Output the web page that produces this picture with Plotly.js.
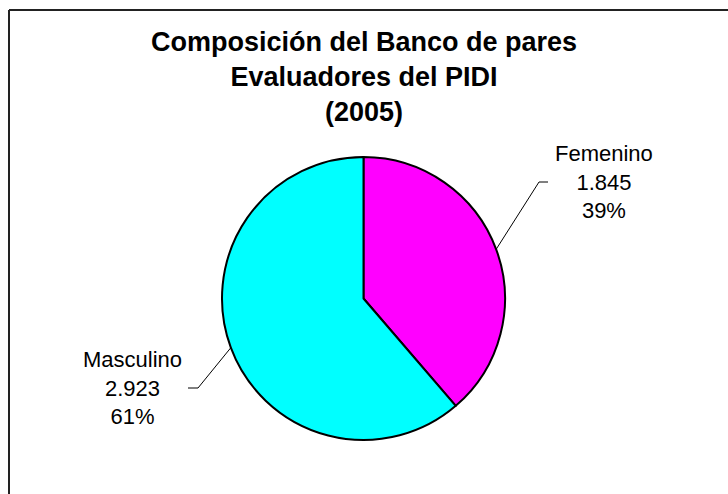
<!DOCTYPE html>
<html>
<head>
<meta charset="utf-8">
<script src="https://cdn.plot.ly/plotly-3.0.1.min.js"></script>
<style>html,body{margin:0;padding:0;background:#fff;}#chart{width:728px;height:494px;}</style>
</head>
<body>
<div id="chart"></div>
<script>
// Data
var categories = ["Femenino", "Masculino"];
var values = [1845, 2923];
var colors = ["#FF00FF", "#00FFFF"];
var titleLines = ["Composición del Banco de pares", "Evaluadores del PIDI", "(2005)"];

// Layout constants (pixels)
var W = 728, H = 494;
var cx = 363.5, cy = 298.5, R = 141.5;
var labelPos = [
  {tx: 604, ty: 182, ex: 539, ey: 182, hx: 548},  // Femenino
  {tx: 132, ty: 388, ex: 198, ey: 388, hx: 188}   // Masculino
];
var FONT = "Liberation Sans, Arial, sans-serif";

function px(x) { return x / W; }
function py(y) { return 1 - y / H; }
function fmt(v) { return String(v).replace(/\B(?=(\d{3})+(?!\d))/g, "."); }

var total = values.reduce(function (a, b) { return a + b; }, 0);

var trace = {
  type: "pie",
  labels: categories,
  values: values,
  sort: false,
  direction: "clockwise",
  rotation: 0,
  textinfo: "none",
  hoverinfo: "label+value+percent",
  marker: {colors: colors, line: {color: "#000000", width: 2}},
  domain: {x: [px(cx - R), px(cx + R)], y: [py(cy + R), py(cy - R)]},
  showlegend: false
};

var annotations = [];
var shapes = [];
var cum = 0;
for (var i = 0; i < values.length; i++) {
  var frac = values[i] / total;
  var mid = (cum + frac / 2) * 2 * Math.PI;
  cum += frac;
  var sx = cx + R * Math.sin(mid);
  var sy = cy - R * Math.cos(mid);
  var p = labelPos[i];
  shapes.push({
    type: "path", xref: "paper", yref: "paper",
    path: "M " + px(sx) + " " + py(sy) + " L " + px(p.ex) + " " + py(p.ey) + " L " + px(p.hx) + " " + py(p.ey),
    line: {color: "#000000", width: 1}
  });
  annotations.push({
    xref: "paper", yref: "paper", x: px(p.tx), y: py(p.ty),
    xanchor: "center", yanchor: "middle", showarrow: false, align: "center",
    text: categories[i] + "<br>" + fmt(values[i]) + "<br>" + Math.round(frac * 100) + "%",
    font: {family: FONT, size: 22, color: "#000000"}
  });
}

// Border (top and left edges visible)
shapes.push({type: "line", xref: "paper", yref: "paper", x0: px(9), y0: py(10), x1: 1.01, y1: py(10), line: {color: "#222222", width: 2}});
shapes.push({type: "line", xref: "paper", yref: "paper", x0: px(9), y0: py(10), x1: px(9), y1: -0.01, line: {color: "#222222", width: 2}});

var layout = {
  width: W, height: H,
  margin: {l: 0, r: 0, t: 0, b: 0},
  paper_bgcolor: "#FFFFFF",
  plot_bgcolor: "#FFFFFF",
  title: {
    text: "<b>" + titleLines.join("<br>") + "</b>",
    font: {family: FONT, size: 27, color: "#000000"},
    x: px(364), xanchor: "center", xref: "paper",
    y: py(51), yanchor: "middle", yref: "paper"
  },
  annotations: annotations,
  shapes: shapes
};

Plotly.newPlot("chart", [trace], layout, {displayModeBar: false, staticPlot: true});
</script>
</body>
</html>
